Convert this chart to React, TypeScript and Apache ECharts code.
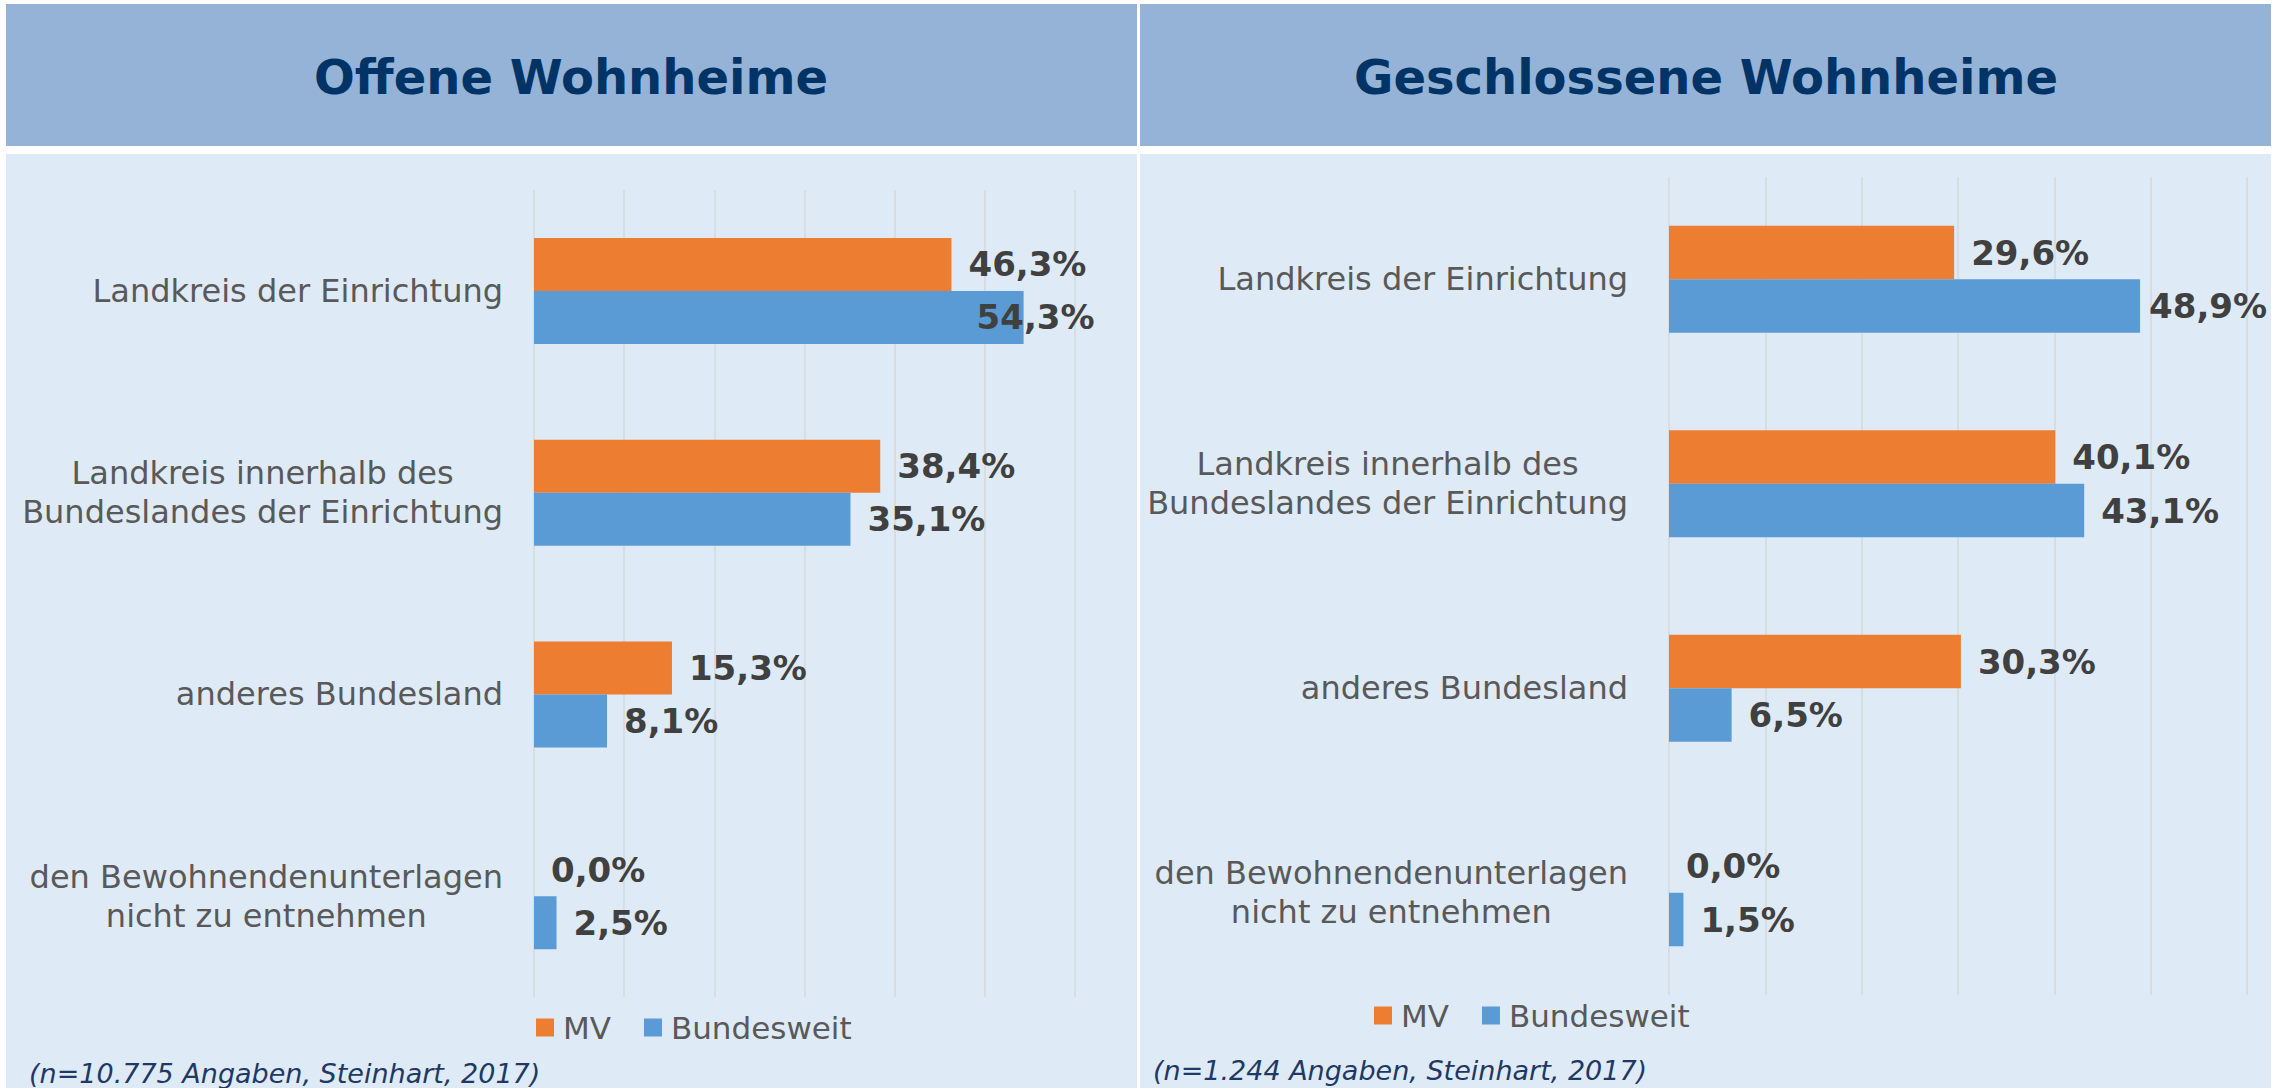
import React, { useEffect, useRef } from "react";
import * as echarts from "echarts";

const categories = [
  "Landkreis der Einrichtung",
  "Landkreis innerhalb des\nBundeslandes der Einrichtung",
  "anderes Bundesland",
  "den Bewohnendenunterlagen\nnicht zu entnehmen",
];
const seriesNames = ["MV", "Bundesweit"];
const offeneMV = [46.3, 38.4, 15.3, 0.0];
const offeneBund = [54.3, 35.1, 8.1, 2.5];
const geschlMV = [29.6, 40.1, 30.3, 0.0];
const geschlBund = [48.9, 43.1, 6.5, 1.5];
const axisTicks = [0, 60, 10]; // min, max, interval
const titles = ["Offene Wohnheime", "Geschlossene Wohnheime"];
const notes = [
  "(n=10.775 Angaben, Steinhart, 2017)",
  "(n=1.244 Angaben, Steinhart, 2017)",
];

const FONT = "'DejaVu Sans', Verdana, sans-serif";
const ORANGE = "#ED7D31";
const BLUE = "#5B9BD5";
const LABEL_GRAY = "#595959";
const VALUE_GRAY = "#404040";
const NAVY = "#003366";

const fmt = (v: number) => v.toFixed(1).replace(".", ",") + "%";

export default function App() {
  const ref = useRef<HTMLDivElement>(null);
  useEffect(() => {
    if (!ref.current) return;
    const chart = echarts.init(ref.current, undefined, { renderer: "svg" });

    const xAxisBase = {
      type: "value",
      min: axisTicks[0],
      max: axisTicks[1],
      interval: axisTicks[2],
      axisLabel: { show: false },
      axisLine: { show: false },
      axisTick: { show: false },
      splitLine: { show: true, lineStyle: { color: "#D9D9D9", width: 1.5 } },
    };
    const yAxisBase = (margin: number) => ({
      type: "category",
      data: categories,
      inverse: true,
      axisLine: { show: false },
      axisTick: { show: false },
      splitLine: { show: false },
      axisLabel: {
        interval: 0,
        margin,
        fontSize: 32,
        fontFamily: FONT,
        color: LABEL_GRAY,
        lineHeight: 39,
        formatter: (v: string) =>
          v
            .split("\n")
            .map((l) => `{c|${l}}`)
            .join("\n"),
        rich: {
          c: {
            align: "center",
            fontSize: 32,
            fontFamily: FONT,
            color: LABEL_GRAY,
            lineHeight: 39,
          },
        },
      },
    });
    const labelBase = {
      show: true,
      position: "right",
      distance: 17,
      fontSize: 34,
      fontWeight: "bold",
      fontFamily: FONT,
      color: VALUE_GRAY,
      formatter: (p: any) => fmt(p.value),
    };
    const mkData = (arr: number[], offsets: Record<number, number>) =>
      arr.map((v, i) =>
        offsets[i] !== undefined
          ? { value: v, label: { offset: [offsets[i], 0] } }
          : v
      );
    const mkSeries = (
      name: string,
      color: string,
      arr: number[],
      idx: number,
      barWidth: number,
      offsets: Record<number, number>
    ) => ({
      type: "bar",
      name,
      xAxisIndex: idx,
      yAxisIndex: idx,
      barWidth,
      barGap: "0%",
      itemStyle: { color },
      label: labelBase,
      data: mkData(arr, offsets),
    });

    const legendBase = {
      data: seriesNames,
      icon: "rect",
      itemWidth: 18,
      itemHeight: 18,
      itemGap: 33,
      padding: 0,
      selectedMode: false,
      textStyle: {
        fontSize: 31,
        fontFamily: FONT,
        color: LABEL_GRAY,
        padding: [0, 0, 0, 4],
      },
    };

    chart.setOption({
      animation: false,
      backgroundColor: "#FFFFFF",
      grid: [
        { left: 534, width: 541, top: 190, height: 807 },
        { left: 1669, width: 578, top: 177, height: 818 },
      ],
      xAxis: [
        { ...xAxisBase, gridIndex: 0 },
        { ...xAxisBase, gridIndex: 1 },
      ],
      yAxis: [
        { ...yAxisBase(31), gridIndex: 0 },
        { ...yAxisBase(41), gridIndex: 1 },
      ],
      legend: [
        { ...legendBase, left: 536, top: 1012 },
        { ...legendBase, left: 1374, top: 1000 },
      ],
      series: [
        mkSeries(seriesNames[0], ORANGE, offeneMV, 0, 53, {}),
        mkSeries(seriesNames[1], BLUE, offeneBund, 0, 53, { 0: -64 }),
        mkSeries(seriesNames[0], ORANGE, geschlMV, 1, 53.5, {}),
        mkSeries(seriesNames[1], BLUE, geschlBund, 1, 53.5, { 0: -8 }),
      ],
      graphic: {
        elements: [
          { type: "rect", z: -10, shape: { x: 6, y: 4, width: 1131, height: 142 }, style: { fill: "#95B3D7" } },
          { type: "rect", z: -10, shape: { x: 1140, y: 4, width: 1131, height: 142 }, style: { fill: "#95B3D7" } },
          { type: "rect", z: -10, shape: { x: 6, y: 154, width: 1131, height: 934 }, style: { fill: "#DEEBF7" } },
          { type: "rect", z: -10, shape: { x: 1140, y: 154, width: 1131, height: 934 }, style: { fill: "#DEEBF7" } },
          {
            type: "text",
            z: 10,
            x: 571,
            y: 77,
            style: {
              text: titles[0],
              fill: NAVY,
              font: `bold 48px ${FONT}`,
              textAlign: "center",
              textVerticalAlign: "middle",
            },
          },
          {
            type: "text",
            z: 10,
            x: 1706,
            y: 77,
            style: {
              text: titles[1],
              fill: NAVY,
              font: `bold 48px ${FONT}`,
              textAlign: "center",
              textVerticalAlign: "middle",
            },
          },
          {
            type: "text",
            z: 10,
            x: 29,
            y: 1073,
            style: {
              text: notes[0],
              fill: "#1F3864",
              font: `italic 27px ${FONT}`,
              textAlign: "left",
              textVerticalAlign: "middle",
            },
          },
          {
            type: "text",
            z: 10,
            x: 1153,
            y: 1070,
            style: {
              text: notes[1],
              fill: "#1F3864",
              font: `italic 27px ${FONT}`,
              textAlign: "left",
              textVerticalAlign: "middle",
            },
          },
        ],
      },
    });
    return () => chart.dispose();
  }, []);
  return (
    <div
      ref={ref}
      style={{ position: "absolute", left: 0, top: 0, width: 2279, height: 1088 }}
    />
  );
}
